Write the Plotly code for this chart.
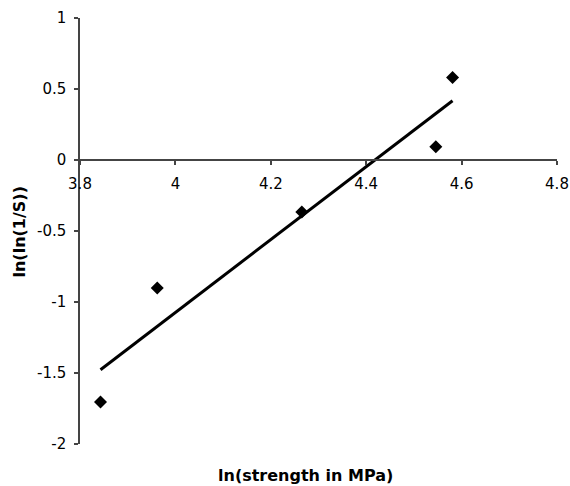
import numpy as np
import plotly.graph_objects as go

# data
ln_strength = [3.843, 3.962, 4.265, 4.546, 4.581]
ln_ln_inv_s = [-1.704, -0.902, -0.366, 0.094, 0.581]
x_ticks = [3.8, 4.0, 4.2, 4.4, 4.6, 4.8]
x_tick_text = ["3.8", "4", "4.2", "4.4", "4.6", "4.8"]
y_ticks = [-2, -1.5, -1, -0.5, 0, 0.5, 1]
y_tick_text = ["-2", "-1.5", "-1", "-0.5", "0", "0.5", "1"]

slope, intercept = np.polyfit(ln_strength, ln_ln_inv_s, 1)
tx = [min(ln_strength), max(ln_strength)]
ty = [slope * v + intercept for v in tx]

font = "DejaVu Sans, Liberation Sans, Arial, sans-serif"

W, H = 570, 486
L, R, T, B = 80, 13, 18, 42
pw, ph = W - L - R, H - T - B

fig = go.Figure()
fig.add_trace(go.Scatter(x=ln_strength, y=ln_ln_inv_s, mode="markers",
                         marker=dict(symbol="diamond", size=10, color="black"),
                         showlegend=False, hoverinfo="skip"))
fig.add_trace(go.Scatter(x=tx, y=ty, mode="lines",
                         line=dict(color="black", width=3), showlegend=False,
                         hoverinfo="skip"))

fig.update_layout(
    width=W, height=H,
    margin=dict(l=L, r=R, t=T, b=B, autoexpand=False),
    plot_bgcolor="white", paper_bgcolor="white",
    font=dict(family=font, size=15, color="black"),
    xaxis=dict(range=[3.8, 4.8], tickvals=x_ticks, ticktext=x_tick_text,
               showgrid=False, zeroline=False, showline=True, automargin=False,
               linecolor="#444", linewidth=1.5,
               ticks="outside", ticklen=4, tickcolor="#444", tickwidth=1.5,
               anchor="free", position=2/3, ticklabelstandoff=6),
    yaxis=dict(range=[-2, 1], tickvals=y_ticks, ticktext=y_tick_text,
               showgrid=False, zeroline=False, showline=True, automargin=False,
               linecolor="#444", linewidth=1.5,
               ticks="outside", ticklen=4, tickcolor="#444", tickwidth=1.5,
               ticklabelstandoff=5),
    annotations=[
        dict(text="<b>ln(strength in MPa)</b>", xref="paper", yref="paper",
             x=(305.5 - L) / pw, y=-(475 - (H - B)) / ph, showarrow=False,
             xanchor="center", yanchor="middle", font=dict(size=16)),
        dict(text="<b>ln(ln(1/S))</b>", xref="paper", yref="paper",
             x=-(L - 19) / pw, y=((H - B) - 231.5) / ph, showarrow=False,
             textangle=-90, xanchor="center", yanchor="middle",
             font=dict(size=16)),
    ],
)

fig.write_html("out.html", config={"displayModeBar": False},
               post_script="document.body.style.margin='0';")
